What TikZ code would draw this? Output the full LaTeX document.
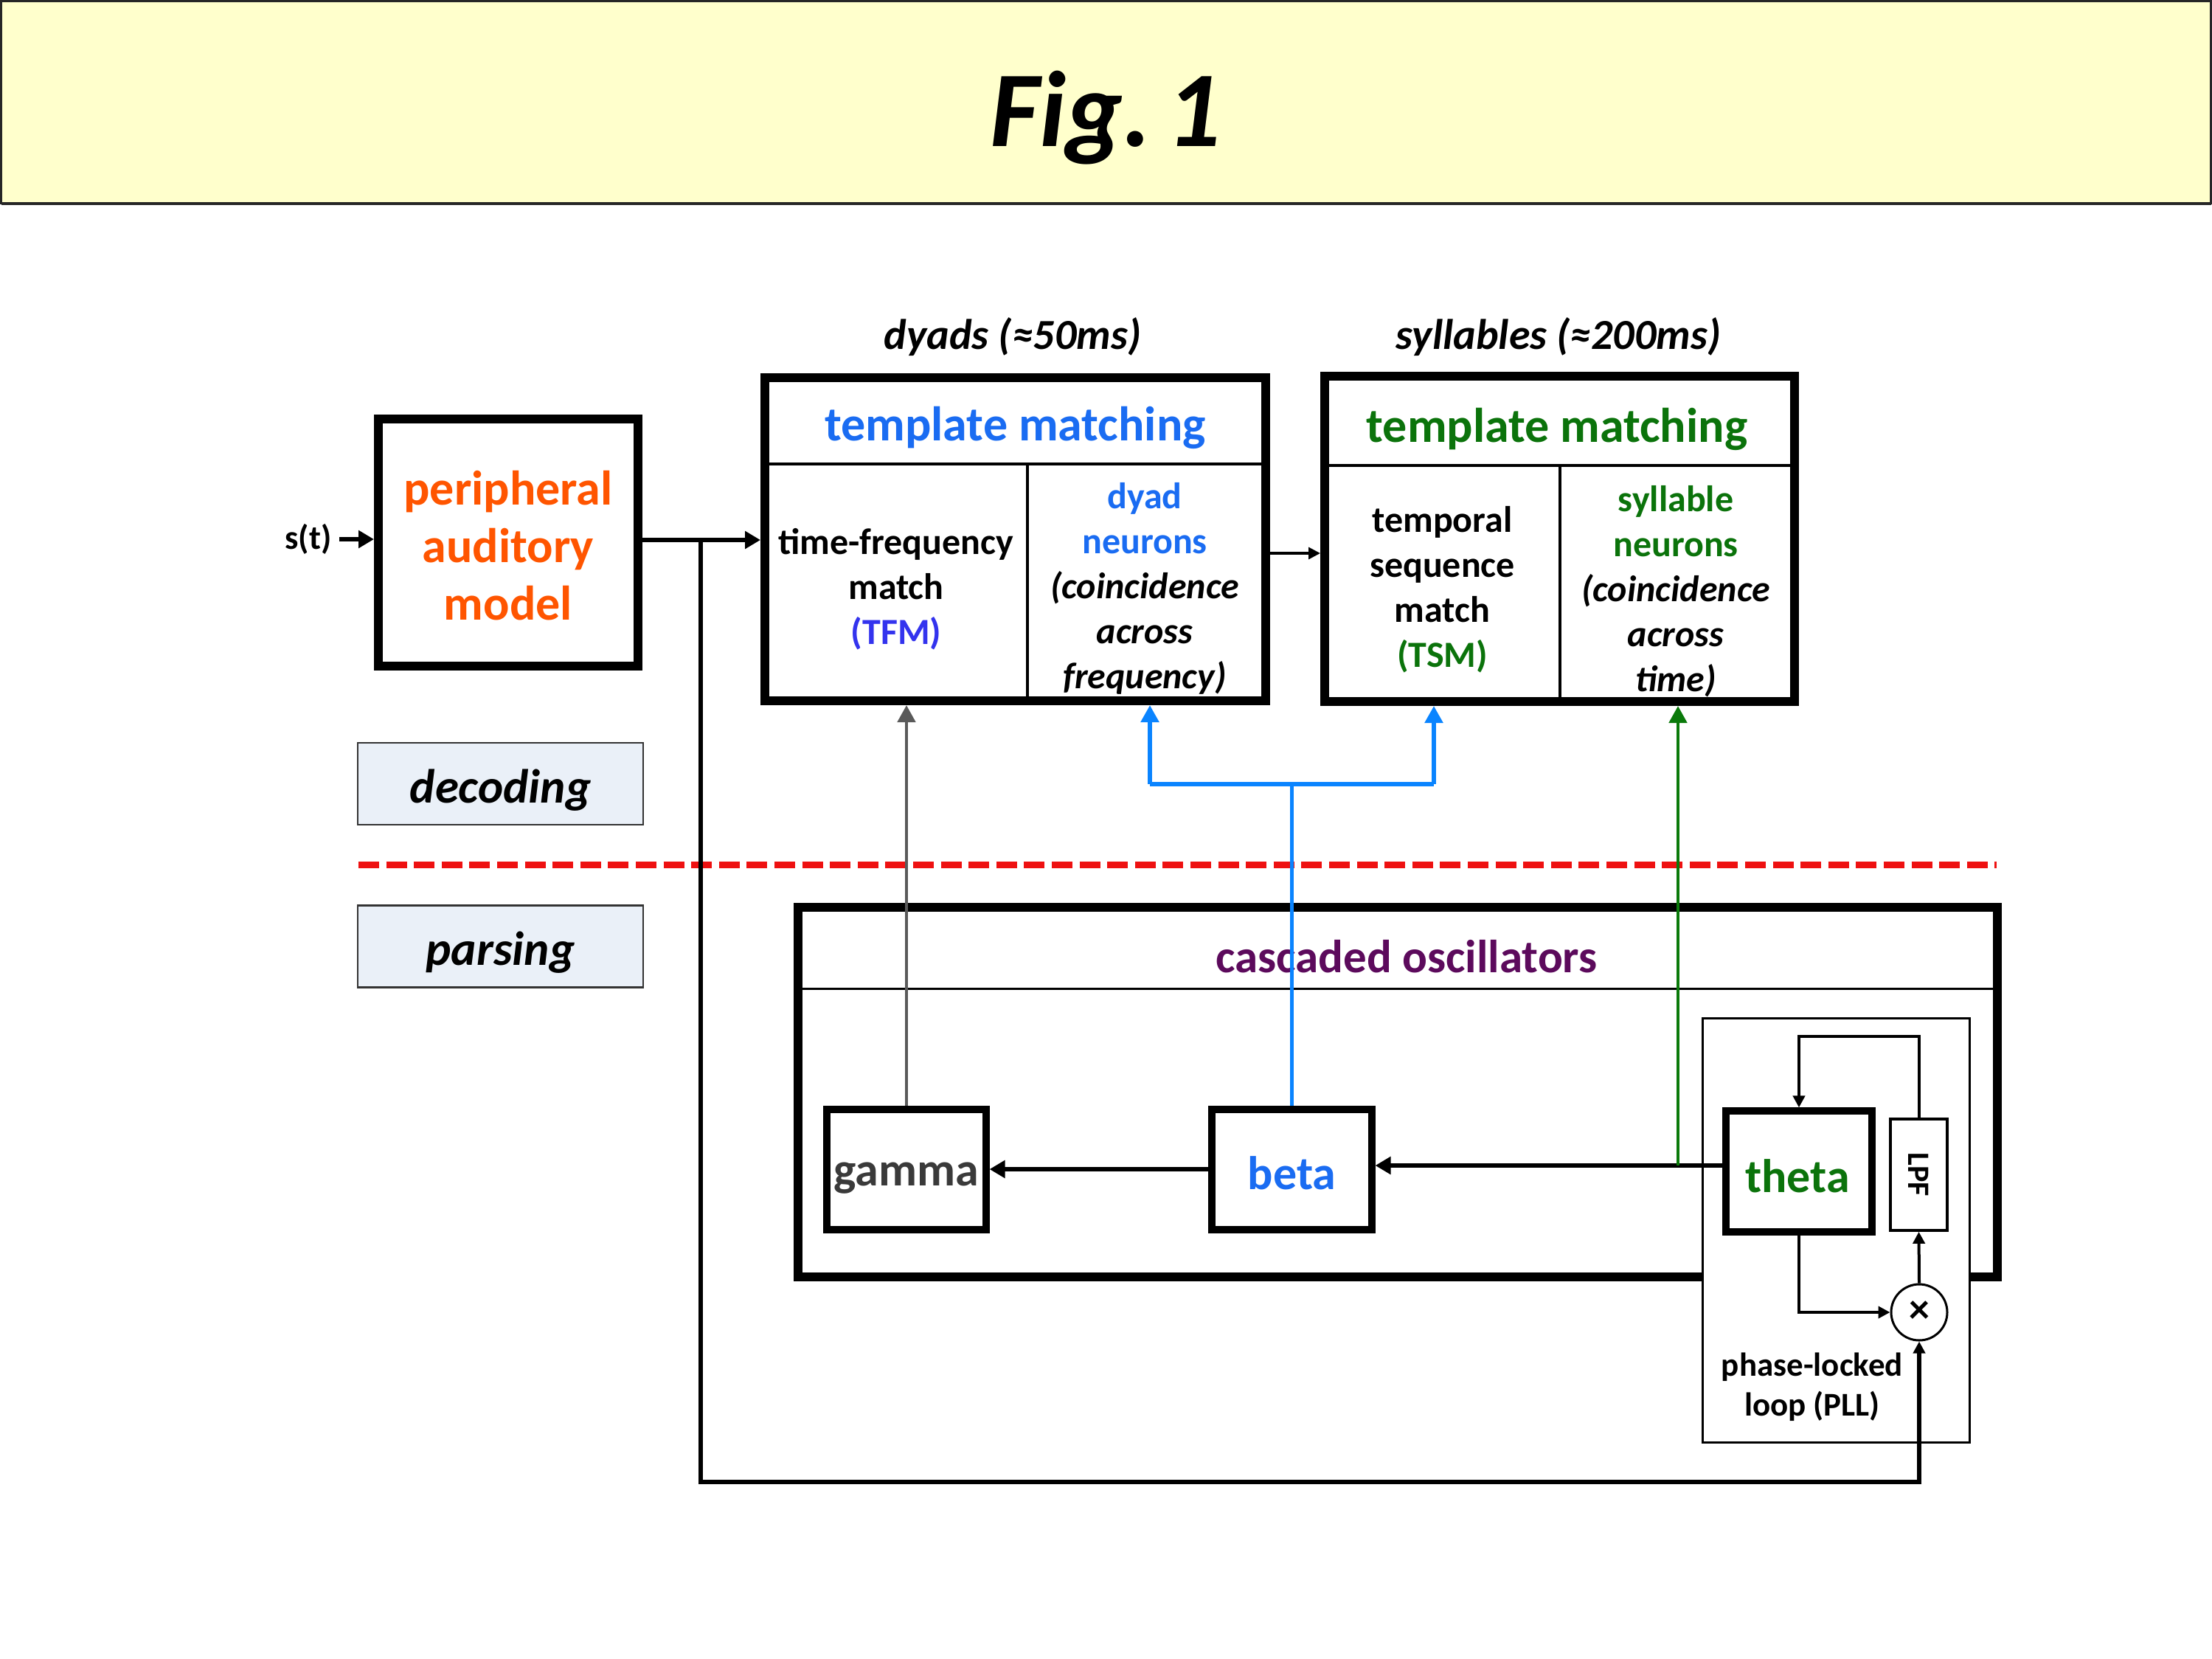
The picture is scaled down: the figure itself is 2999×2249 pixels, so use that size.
\documentclass[tikz,border=0pt]{standalone}
\usepackage{fontspec}
\setmainfont{Carlito}
\usetikzlibrary{arrows.meta,calc}

\definecolor{hdrfill}{HTML}{FFFFCC}
\definecolor{orng}{HTML}{FF5500}
\definecolor{tblue}{HTML}{1A6CF2}
\definecolor{tfmblue}{HTML}{3333EE}
\definecolor{tgreen}{HTML}{0B730B}
\definecolor{tpurple}{HTML}{5C0A5C}
\definecolor{cblue}{HTML}{0A84FF}
\definecolor{cgreen}{HTML}{0A7A0A}
\definecolor{cgray}{HTML}{5A5A5A}
\definecolor{gtext}{HTML}{3A3A3A}
\definecolor{dred}{HTML}{EE1111}
\definecolor{tagfill}{HTML}{EAF0F8}

\tikzset{
  bigtext/.style={font=\bfseries\fontsize{16.5pt}{19.5pt}\selectfont, inner sep=0, align=center},
  celltext/.style={font=\bfseries\fontsize{12.5pt}{15.25pt}\selectfont, inner sep=0, align=center},
  heavybox/.style={draw, line width=3pt, inner sep=0},
  oscbox/.style={draw, line width=2.3pt, inner sep=0, minimum height=40.75pt},
  oscname/.style={font=\bfseries\fontsize{16pt}{18pt}\selectfont, inner sep=0},
  tagbox/.style={draw=black!80, line width=0.6pt, fill=tagfill, inner sep=0,
    minimum width=96.75pt, minimum height=27.75pt},
  tagtext/.style={font=\bfseries\itshape\fontsize{16.25pt}{18pt}\selectfont, inner sep=0},
  scalelabel/.style={font=\bfseries\itshape\fontsize{14.5pt}{16pt}\selectfont, inner sep=0},
  bigtip/.style={-{Triangle[length=5.25pt,width=5.8pt]}},
  smalltip/.style={-{Triangle[length=4pt,width=4pt]}},
  colortip/.style={-{Triangle[length=5.75pt,width=6pt]}},
}

\begin{document}
\begin{tikzpicture}[x=0.25pt,y=-0.25pt]
\useasboundingbox (0,0) rectangle (2999,2249);
\fill[white] (0,0) rectangle (2999,2249);

% title banner
\node[draw=black!85, line width=0.6pt, fill=hdrfill, minimum width=749pt,
      minimum height=68.5pt, inner sep=0, outer sep=0, anchor=north west] (hdr) at (1.5,1.5) {};
\draw[line width=1pt, black!85] (hdr.south west) -- (hdr.south east);
\node[font=\bfseries\itshape\fontsize{36.5pt}{40pt}\selectfont, inner sep=0] (fig) at (1499,160) {Fig.\hspace{0.14em}1};

% input and peripheral model
\node[heavybox, minimum width=88pt, minimum height=83.75pt] (periph) at (689,735) {};
\node[bigtext, text=orng] (periphtext) at (689,740) {peripheral\\auditory\\model};
\node[font=\bfseries\fontsize{11.5pt}{13pt}\selectfont, inner sep=2.5pt] (st) at (418,731) {s(t)};
\draw[line width=1.6pt, bigtip] (st.east) -- (st.east -| periph.west);

% dyad template matching
\node[heavybox, minimum width=169.75pt, minimum height=109.5pt] (tm1) at (1376.5,731) {};
\coordinate (tm1h) at (1037,629);
\coordinate (tm1v) at (1393,629);
\draw[line width=1pt] (tm1.west |- tm1h) -- (tm1.east |- tm1h);
\draw[line width=1pt] (tm1v) -- (tm1v |- tm1.south);
\node[bigtext, text=tblue] (tm1title) at (1376.5,580) {template matching};
\node[celltext] (tfm) at (1215,799) {time-frequency\\match\\\textcolor{tfmblue}{(TFM)}};
\node[celltext] (dyadn) at (1552,798) {\textcolor{tblue}{dyad}\\\textcolor{tblue}{neurons}\\\textit{(coincidence}\\\textit{across}\\\textit{frequency)}};
\node[scalelabel] (dyadlabel) at (1373,457) {dyads (≈50ms)};

% syllable template matching
\node[heavybox, minimum width=159.25pt, minimum height=110.25pt] (tm2) at (2114.5,730.5) {};
\coordinate (tm2h) at (1796,631);
\coordinate (tm2v) at (2115,631);
\draw[line width=1pt] (tm2.west |- tm2h) -- (tm2.east |- tm2h);
\draw[line width=1pt] (tm2v) -- (tm2v |- tm2.south);
\node[bigtext, text=tgreen] (tm2title) at (2111,582) {template matching};
\node[celltext] (tsm) at (1955.5,799) {temporal\\sequence\\match\\\textcolor{tgreen}{(TSM)}};
\node[celltext] (sylln) at (2272,802) {\textcolor{tgreen}{syllable}\\\textcolor{tgreen}{neurons}\\\textit{(coincidence}\\\textit{across}\\\textit{time)}};
\node[scalelabel] (syllabel) at (2113,457) {syllables (≈200ms)};

% forward connections
\coordinate (lvA) at (0,732);
\coordinate (br) at (950,732);
\draw[line width=1.5pt, bigtip] (periph.east |- lvA) -- (tm1.west |- lvA);
\coordinate (lvT) at (0,750);
\draw[line width=0.8pt, smalltip] (tm1.east |- lvT) -- (tm2.west |- lvT);

% decoding / parsing separation
\node[tagbox] (dec) at (678.5,1062.5) {};
\node[tagtext] (dectext) at (678.5,1071) {decoding};
\node[tagbox] (par) at (678.5,1283) {};
\node[tagtext] (partext) at (678.5,1291) {parsing};
\coordinate (dl) at (486,1172);
\coordinate (dr) at (2707,1172);
\draw[dred, line width=2.25pt, dash pattern=on 7pt off 2.4pt] (dl) -- (dr);

% cascaded oscillators
\node[heavybox, minimum width=406.5pt, minimum height=125.25pt] (osc) at (1895,1480.5) {};
\coordinate (oscd) at (0,1340);
\draw[line width=0.75pt] (osc.west |- oscd) -- (osc.east |- oscd);
\node[font=\bfseries\fontsize{15.75pt}{18pt}\selectfont, inner sep=0, text=tpurple] (osctitle) at (1907,1297) {cascaded oscillators};

% phase-locked loop
\node[draw, fill=white, line width=0.75pt, minimum width=90.5pt, minimum height=143.75pt, inner sep=0] (pll) at (2489,1667.5) {};
\node[font=\bfseries\fontsize{11.25pt}{13.5pt}\selectfont, inner sep=0, align=center] (plltext) at (2457,1880) {phase-locked\\loop (PLL)};

\node[oscbox, minimum width=54pt] (gamma) at (1229,1585.5) {};
\node[oscname, text=gtext] (gammat) at (1229,1597) {gamma};
\node[oscbox, minimum width=54.25pt] (beta) at (1751.5,1585.5) {};
\node[oscname, text=tblue] (betat) at (1751.5,1590) {beta};
\node[oscbox, minimum width=49.5pt, minimum height=41pt] (theta) at (2439,1588) {};
\node[oscname, text=tgreen] (thetat) at (2437,1594) {theta};

\node[draw, line width=0.9pt, minimum width=19.25pt, minimum height=37.75pt, inner sep=0] (lpf) at (2601.5,1592.5) {};
\node[rotate=-90, font=\bfseries\fontsize{10.5pt}{12pt}\selectfont, inner sep=0] (lpft) at (2601.5,1592.5) {LPF};
\node[circle, draw, fill=white, line width=0.75pt, minimum size=19pt, inner sep=0] (mult) at (2602,1779) {};
\node[font=\bfseries\fontsize{14pt}{16pt}\selectfont, inner sep=0] (multx) at (2602,1779) {×};

% loop wiring
\coordinate (lvC) at (0,1405);
\draw[line width=1pt, smalltip] (lpf.north) -- (lpf.north |- lvC) -| (theta.north);
\draw[line width=1pt, smalltip] (theta.south) |- (mult.west);
\draw[line width=1pt, smalltip] (mult.north) -- (lpf.south);

% oscillator cascade
\coordinate (lvD) at (0,1580);
\coordinate (lvE) at (0,1585);
\draw[line width=1.5pt, bigtip] (theta.west |- lvD) -- (beta.east |- lvD);
\draw[line width=1.5pt, bigtip] (beta.west |- lvE) -- (gamma.east |- lvE);

% feedback of the envelope to the PLL
\coordinate (lvB) at (0,2009);
\draw[line width=1.45pt, smalltip] (br) -- (br |- lvB) -| (mult.south);

% oscillator outputs to template matching
\draw[cgray, line width=1.2pt, colortip] (gamma.north) -- (gamma.north |- tm1.south);
\coordinate (bl) at (1559,1063);
\coordinate (bk) at (1944,1063);
\draw[cblue, line width=1.3pt] (beta.north) -- (beta.north |- bl);
\draw[cblue, line width=1.3pt] (bl) -- (bk);
\draw[cblue, line width=1.3pt, colortip] (bl) -- (bl |- tm1.south);
\draw[cblue, line width=1.3pt, colortip] (bk) -- (bk |- tm2.south);
\coordinate (gsrc) at (2275,1580);
\draw[cgreen, line width=1.2pt, colortip] (gsrc) -- (gsrc |- tm2.south);
\end{tikzpicture}
\end{document}
